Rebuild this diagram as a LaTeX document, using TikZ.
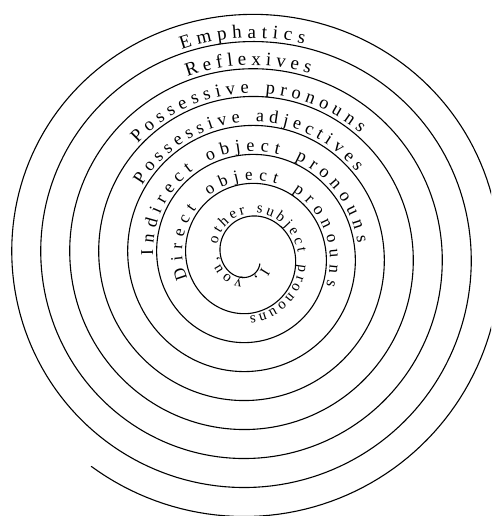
\documentclass[tikz,border=0pt]{standalone}
\usepackage{fontspec}
\setmainfont{Liberation Serif}
\newdimen\chwd
\pgfmathdeclarefunction{rr}{1}{\pgfmathparse{5+0.080556*#1-max(0,0.02155*(630-#1))}}
\pgfmathdeclarefunction{ee}{1}{\pgfmathparse{2-0.005*max(0,#1-2000)*max(0,sin(#1))}}
\gdef\alltext{}
% #1 name, #2 start angle, #3 font size, #4 letter spacing, #5 word space, #6 raise, #7 letters
\newcommand\spiraltext[7]{%
  \xdef\curth{#2}%
  \foreach \ch [count=\k] in {#7} {%
    \ifnum\strcmp{\ch}{SP}=0
      \pgfmathsetmacro\rc{rr(\curth)+#6}%
      \pgfmathsetmacro\nexth{\curth+(#5+#4)/\rc*57.29578}%
      \xdef\curth{\nexth}%
    \else
      \setbox0\hbox{\fontsize{#3}{#3}\selectfont\ch}%
      \global\chwd=\wd0
      \pgfmathsetmacro\w{\chwd}%
      \pgfmathsetmacro\rb{rr(\curth)+#6}%
      \pgfmathsetmacro\thc{\curth+0.5*\w/\rb*57.29578}%
      \pgfmathsetmacro\rc{rr(\thc)+#6}%
      \pgfmathsetmacro\X{248.75-\rc*cos(\thc)}%
      \pgfmathsetmacro\Y{255.75-(\rc+ee(\thc))*sin(\thc)}%
      \pgfmathsetmacro\rot{90-\thc+atan(4.6155/\rc)}%
      \xdef\alltext{\unexpanded\expandafter{\alltext}\noexpand\node[sletter, font=\noexpand\fontsize{#3}{#3}\noexpand\selectfont, rotate=\rot] (#1-\k) at (\X,\Y) {\ch};}%
      \pgfmathsetmacro\nexth{\curth+(\w+#4)/\rc*57.29578}%
      \xdef\curth{\nexth}%
    \fi
  }%
}
\begin{document}
\spiraltext{emph}{2592}{19}{5.5}{6}{3.5}{E,m,p,h,a,t,i,c,s}%
\spiraltext{refl}{2231}{19}{4.8}{6}{3.5}{R,e,f,l,e,x,i,v,e,s}%
\spiraltext{posp}{1845}{18.5}{5.1}{6}{3.5}{P,o,s,s,e,s,s,i,v,e,SP,p,r,o,n,o,u,n,s}%
\spiraltext{posa}{1473}{18}{4.8}{6}{3.5}{P,o,s,s,e,s,s,i,v,e,SP,a,d,j,e,c,t,i,v,e,s}%
\spiraltext{indo}{1080}{18}{5.7}{6}{3.5}{I,n,d,i,r,e,c,t,SP,o,b,j,e,c,t,SP,p,r,o,n,o,u,n,s}%
\spiraltext{diro}{700}{17}{5.9}{6}{3.5}{D,i,r,e,c,t,SP,o,b,j,e,c,t,SP,p,r,o,n,o,u,n,s}%
\spiraltext{subj}{218}{15}{2.9}{5}{3}{I,{,},SP,y,o,u,{,},SP,o,t,h,e,r,SP,s,u,b,j,e,c,t,SP,p,r,o,n,o,u,n,s}%
\begin{tikzpicture}[x=1pt, y=-1pt,
  declare function={rs(\t)=5+0.080556*\t-max(0,0.02155*(630-\t));
                    es(\t)=2-0.005*max(0,\t-2000)*max(0,sin(\t));},
  sletter/.style={anchor=base, inner sep=0pt, outer sep=0pt},
  spiralline/.style={line width=1.1pt, line cap=round}]
\useasboundingbox (0,0) rectangle (491,516);
\clip (0,0) rectangle (491,516);
\draw[spiralline] plot[domain=212.4:3187, samples=1500, variable=\t]
  ({248.75-rs(\t)*cos(\t)}, {255.75-(rs(\t)+es(\t))*sin(\t)});
\alltext
\end{tikzpicture}
\end{document}
